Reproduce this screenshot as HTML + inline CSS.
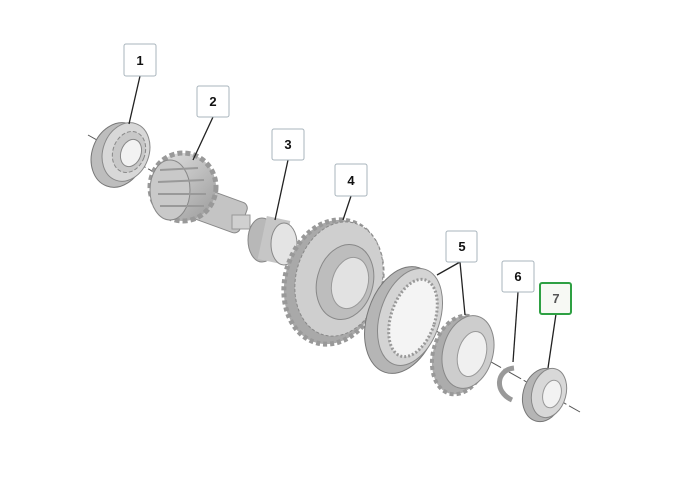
<!DOCTYPE html>
<html><head><style>
html,body{margin:0;padding:0;background:#fff;}
svg{display:block;}
text{font-family:"Liberation Sans",sans-serif;font-weight:bold;font-size:13px;fill:#111;}
</style></head><body>
<svg width="700" height="492" viewBox="0 0 700 492" xmlns="http://www.w3.org/2000/svg">
<defs>
<linearGradient id="g" x1="0" y1="0" x2="1" y2="1">
<stop offset="0" stop-color="#e6e6e6"/><stop offset="1" stop-color="#9a9a9a"/></linearGradient>
</defs>
<line x1="88" y1="135" x2="580" y2="412" stroke="#555" stroke-width="1" stroke-dasharray="14,3,3,3"/>

<!-- bearing 1 -->
<ellipse cx="118" cy="155" rx="26" ry="33" transform="rotate(20 118 155)" fill="#bdbdbd" stroke="#777"/>
<ellipse cx="126" cy="152" rx="23" ry="30" transform="rotate(20 126 152)" fill="#d8d8d8" stroke="#888"/>
<ellipse cx="129" cy="152" rx="16" ry="21" transform="rotate(20 129 152)" fill="#c8c8c8" stroke="#888" stroke-dasharray="4,2"/>
<ellipse cx="131" cy="153" rx="10" ry="14" transform="rotate(20 131 153)" fill="#f2f2f2" stroke="#888"/>

<!-- gear 2 -->
<rect x="195" y="195" width="50" height="32" rx="6" fill="#c4c4c4" stroke="#888" transform="rotate(20 220 211)"/>
<ellipse cx="183" cy="187" rx="33" ry="34" fill="url(#g)" stroke="#999" stroke-width="5" stroke-dasharray="5,3"/>
<ellipse cx="170" cy="190" rx="20" ry="30" fill="#c9c9c9" stroke="#888"/>
<path d="M160 170 L198 168 M158 182 L204 180 M158 194 L206 194 M160 206 L204 206" stroke="#999" stroke-width="2"/>
<rect x="232" y="215" width="18" height="14" fill="#d0d0d0" stroke="#999"/>

<!-- needle bearing 3 -->
<ellipse cx="262" cy="240" rx="14" ry="22" fill="#b8b8b8" stroke="#888"/>
<rect x="262" y="218" width="24" height="44" fill="#c6c6c6" transform="rotate(12 274 240)"/>
<ellipse cx="284" cy="244" rx="13" ry="21" fill="#e4e4e4" stroke="#888"/>

<!-- gear 4 -->
<ellipse cx="333" cy="282" rx="48" ry="63" transform="rotate(15 333 282)" fill="#a9a9a9" stroke="#999" stroke-width="5" stroke-dasharray="4,3"/>
<ellipse cx="339" cy="279" rx="43" ry="58" transform="rotate(15 339 279)" fill="#cfcfcf" stroke="#888" stroke-dasharray="3,2"/>
<ellipse cx="345" cy="282" rx="28" ry="38" transform="rotate(15 345 282)" fill="#bdbdbd" stroke="#888"/>
<ellipse cx="350" cy="283" rx="18" ry="26" transform="rotate(15 350 283)" fill="#e2e2e2" stroke="#999"/>

<!-- ring 5a -->
<ellipse cx="402" cy="320" rx="35" ry="55" transform="rotate(18 402 320)" fill="#b5b5b5" stroke="#777"/>
<ellipse cx="410" cy="317" rx="30" ry="50" transform="rotate(18 410 317)" fill="#d4d4d4" stroke="#888"/>
<ellipse cx="413" cy="318" rx="22" ry="40" transform="rotate(18 413 318)" fill="#f4f4f4" stroke="#999" stroke-width="3" stroke-dasharray="2,2"/>

<!-- hub 5b -->
<ellipse cx="460" cy="355" rx="27" ry="40" transform="rotate(15 460 355)" fill="#acacac" stroke="#999" stroke-width="4" stroke-dasharray="4,3"/>
<ellipse cx="468" cy="352" rx="25" ry="37" transform="rotate(15 468 352)" fill="#cdcdcd" stroke="#888"/>
<ellipse cx="472" cy="354" rx="14" ry="23" transform="rotate(15 472 354)" fill="#f0f0f0" stroke="#999"/>

<!-- clip 6 -->
<path d="M514 368 C496 370 494 392 512 400" stroke="#999" stroke-width="5" fill="none"/>

<!-- bearing 7 -->
<ellipse cx="543" cy="395" rx="20" ry="27" transform="rotate(15 543 395)" fill="#b5b5b5" stroke="#777"/>
<ellipse cx="549" cy="393" rx="17" ry="25" transform="rotate(15 549 393)" fill="#d8d8d8" stroke="#888"/>
<ellipse cx="552" cy="394" rx="9" ry="14" transform="rotate(15 552 394)" fill="#f2f2f2" stroke="#999"/>

<g stroke="#222" stroke-width="1.3">
<line x1="140" y1="76" x2="129" y2="124"/>
<line x1="213" y1="117" x2="193" y2="160"/>
<line x1="288" y1="160" x2="275" y2="220"/>
<line x1="351" y1="196" x2="343" y2="220"/>
<line x1="460" y1="262" x2="437" y2="275"/>
<line x1="460" y1="262" x2="465" y2="315"/>
<line x1="518" y1="292" x2="513" y2="362"/>
<line x1="556" y1="314" x2="548" y2="368"/>
</g>

<g fill="#fff" stroke="#a8b4bc" stroke-width="1">
<rect x="124" y="44" width="32" height="32" rx="2"/>
<rect x="197" y="86" width="32" height="31" rx="2"/>
<rect x="272" y="129" width="32" height="31" rx="2"/>
<rect x="335" y="164" width="32" height="32" rx="2"/>
<rect x="446" y="231" width="31" height="31" rx="2"/>
<rect x="502" y="261" width="32" height="31" rx="2"/>
</g>
<rect x="540" y="283" width="31" height="31" rx="2" fill="#f7f9f4" stroke="#2ea043" stroke-width="2"/>
<text x="140" y="65" text-anchor="middle">1</text>
<text x="213" y="106" text-anchor="middle">2</text>
<text x="288" y="149" text-anchor="middle">3</text>
<text x="351" y="185" text-anchor="middle">4</text>
<text x="462" y="251" text-anchor="middle">5</text>
<text x="518" y="281" text-anchor="middle">6</text>
<text x="556" y="303" text-anchor="middle" style="fill:#555">7</text>
</svg>
</body></html>
